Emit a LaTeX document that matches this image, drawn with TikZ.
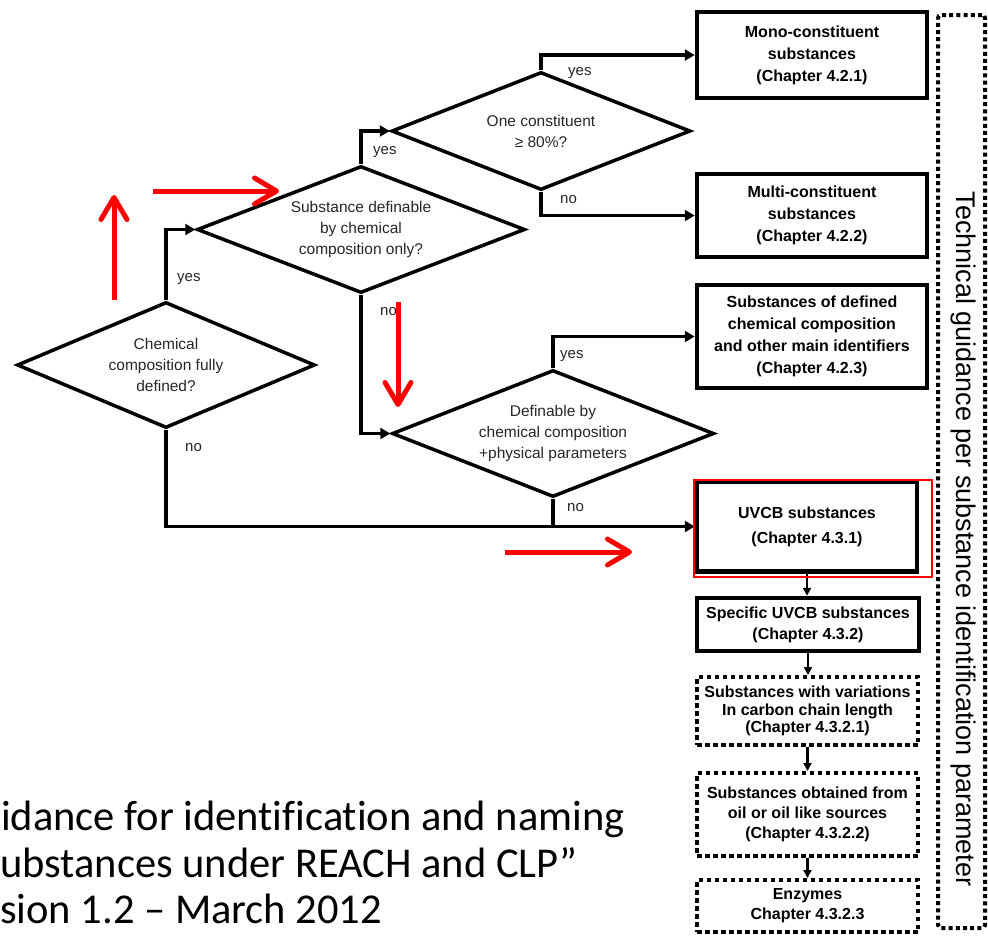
\documentclass[tikz,border=0pt]{standalone}
\usepackage{fontspec}
\setmainfont{Liberation Sans}
\newfontfamily\calibri{Carlito}[Ligatures=NoCommon]
\usetikzlibrary{shapes.geometric,arrows.meta}
\tikzset{
  dec/.style={diamond, draw, line width=3.5pt, inner sep=0pt, align=center,
    text=black!85, font=\fontsize{15.5}{21}\selectfont},
  res/.style={rectangle, draw, line width=4.5pt, inner sep=0pt, align=center,
    minimum width=230pt, font=\bfseries\fontsize{16}{22}\selectfont},
  dotbox/.style={res, line width=4pt, dash pattern=on 4.5pt off 3.5pt},
  conn/.style={line width=3.5pt, -{Triangle[length=10pt,width=11pt]}},
  chain/.style={line width=2.2pt, -{Triangle[length=8pt,width=8pt]}},
  lbl/.style={anchor=west, inner sep=0pt, text=black!85, font=\fontsize{15}{18}\selectfont},
  redarr/.style={red, line width=5pt, -{Straight Barb[length=22pt,width=26pt,round]}},
  ref/.style={anchor=base west, inner sep=0pt, font=\calibri\fontsize{42.5}{47}\selectfont}
}
\begin{document}
\begin{tikzpicture}[x=1pt,y=-1pt]
\useasboundingbox (0,0) rectangle (988,935);

% decisions
\node[dec, aspect=2.37, minimum width=298pt, minimum height=126pt] (d1) at (166,365)
  {Chemical\\composition fully\\defined?};
\node[dec, aspect=2.58, minimum width=328pt, minimum height=127pt] (d2) at (361,229.5)
  {Substance definable\\by chemical\\composition only?};
\node[dec, aspect=2.53, minimum width=299pt, minimum height=118pt] (d3) at (541,131)
  {One constituent\\≥ 80\%?};
\node[dec, aspect=2.54, minimum width=322pt, minimum height=127pt] (d4) at (553,433.5)
  {Definable by\\chemical composition\\+physical parameters};

% results
\node[res, minimum height=86pt] (b1) at (812,55)
  {Mono-constituent\\substances\\(Chapter 4.2.1)};
\node[res, minimum height=83pt] (b2) at (812,215.5)
  {Multi-constituent\\substances\\(Chapter 4.2.2)};
\node[res, minimum height=103pt] (b3) at (812,336.5)
  {Substances of defined\\chemical composition\\and other main identifiers\\(Chapter 4.2.3)};
\node[res, minimum width=220pt, minimum height=90pt,
  font=\bfseries\fontsize{16}{25}\selectfont] (uvcb) at (807,526.5)
  {UVCB substances\\(Chapter 4.3.1)};
\node[res, minimum width=222pt, minimum height=53pt,
  font=\bfseries\fontsize{16}{21}\selectfont] (spec) at (808,624.5)
  {Specific UVCB substances\\(Chapter 4.3.2)};
\node[dotbox, minimum width=221pt, minimum height=68pt,
  font=\bfseries\fontsize{16}{17.5}\selectfont] (v1) at (807.5,711)
  {Substances with variations\\In carbon chain length\\(Chapter 4.3.2.1)};
\node[dotbox, minimum width=221pt, minimum height=83pt,
  font=\bfseries\fontsize{16}{20}\selectfont] (v2) at (807.5,814.5)
  {Substances obtained from\\oil or oil like sources\\(Chapter 4.3.2.2)};
\node[dotbox, minimum width=221pt, minimum height=52pt,
  font=\bfseries\fontsize{16}{20}\selectfont] (v3) at (807.5,906)
  {Enzymes\\Chapter 4.3.2.3};

% side frame
\node[draw, line width=4pt, dash pattern=on 4pt off 3.2pt, rounded corners=3pt,
  minimum width=47pt, minimum height=913pt, inner sep=0pt] (frame) at (961.5,471.5) {};
\node[rotate=-90, inner sep=0pt, font=\fontsize{27}{30}\selectfont] (side) at (963,539)
  {Technical guidance per substance identification parameter};

% connectors
\draw[conn] (d1.north) |- (d2.west);
\draw[conn] (d2.north) |- (d3.west);
\draw[conn] (d3.north) |- (b1.west);
\draw[conn] (d3.south) |- (b2.west);
\draw[conn] (d2.south) |- (d4.west);
\draw[conn] (d4.north) |- (b3.west);
\draw[conn] (d1.south) |- (uvcb.west);
\draw[line width=3.5pt] (d4.south) -- (d4.south |- uvcb.west);
\draw[chain] (uvcb.south) -- (uvcb.south |- spec.north);
\draw[chain] (spec.south) -- (spec.south |- v1.north);
\draw[chain] (v1.south) -- (v1.south |- v2.north);
\draw[chain] (v2.south) -- (v2.south |- v3.north);

% branch labels
\node[lbl] (l1) at (177,279) {yes};
\node[lbl] (l2) at (185,448) {no};
\node[lbl] (l3) at (373,152) {yes};
\node[lbl] (l4) at (380,312) {no};
\node[lbl] (l5) at (568,73) {yes};
\node[lbl] (l6) at (560,200) {no};
\node[lbl] (l7) at (560,356) {yes};
\node[lbl] (l8) at (567,508) {no};

% highlight and red arrows
\draw[red, line width=1.5pt] (694,480) rectangle (932,577);
\draw[redarr] (114,300) -- (114,195);
\draw[redarr] (153,191) -- (279,191);
\draw[redarr] (398,302) -- (398,407);
\draw[redarr] (505,552) -- (632,552);

% reference text
\node[ref] (r1) at (1,830) {idance for identification and naming};
\node[ref] (r2) at (0,877) {ubstances under REACH and CLP”};
\node[ref] (r3) at (0,923) {sion 1.2 – March 2012};
\end{tikzpicture}
\end{document}
